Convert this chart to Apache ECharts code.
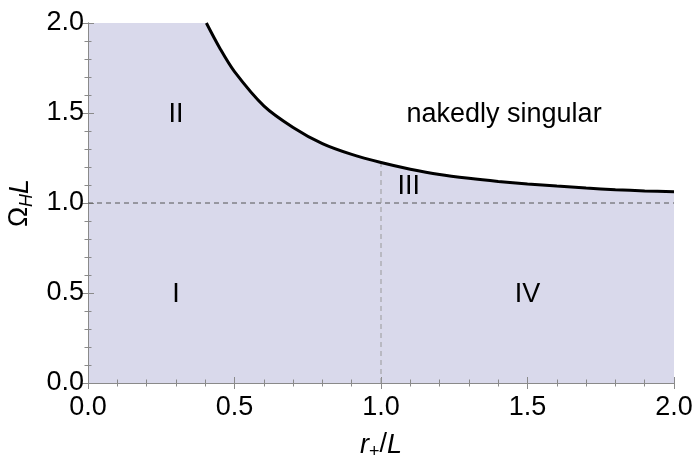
<!DOCTYPE html>
<html><head><meta charset="utf-8">
<script src="https://cdn.jsdelivr.net/npm/echarts@6/dist/echarts.min.js"></script>
<style>html,body{margin:0;padding:0;background:#fff}#c{width:694px;height:459px}</style>
</head><body><div id="c"></div>
<script>
// Boundary curve: r+/L vs Omega_H L
const rVals =     [0.404, 0.45, 0.50, 0.60, 0.70, 0.80, 0.90, 1.00, 1.10, 1.20, 1.30, 1.40, 1.50, 1.60, 1.70, 1.80, 1.90, 2.00];
const omegaVals = [2.00,  1.86, 1.73, 1.54, 1.42, 1.33, 1.27, 1.225, 1.188, 1.158, 1.137, 1.12, 1.106, 1.094, 1.083, 1.074, 1.067, 1.062];
// dashed guides
const hGuideX = [0, 2];
const hGuideY = [1, 1];
const vGuideX = [1, 1];
const vGuideY = [0, 1.225];
// region labels
const labelText = ['II', 'nakedly singular', 'III', 'I', 'IV'];
const labelX =    [0.30, 1.42, 1.095, 0.30, 1.50];
const labelY =    [1.49, 1.49, 1.09, 0.49, 0.49];
const tickLabels = ['0.0','0.5','1.0','1.5','2.0'];

const FILL = '#d9d9eb';
const FONT = 'Liberation Sans, Arial, sans-serif';
const FS = 27;
const TXT = '#000';
const zip = (a, b) => a.map((v, i) => [v, b[i]]);

const chart = echarts.init(document.getElementById('c'));
const tickCommon = {
  axisLine: {show: true, lineStyle: {color: '#8a8a8a', width: 1}},
  axisTick: {show: true, inside: true, length: 6, lineStyle: {color: '#8a8a8a'}},
  minorTick: {show: true, splitNumber: 5, length: 3.5, lineStyle: {color: '#8a8a8a'}},
  splitLine: {show: false}
};
const rich = {
  i: {fontSize: FS, fontStyle: 'italic', fontFamily: FONT, color: TXT},
  n: {fontSize: FS, fontFamily: FONT, color: TXT},
  s: {fontSize: 18, fontFamily: FONT, color: TXT, padding: [14, 0, 0, 0]},
  si: {fontSize: 18, fontStyle: 'italic', fontFamily: FONT, color: TXT, padding: [14, 0, 0, 0]}
};
chart.setOption({
  animation: false,
  grid: {left: 88, right: 20, top: 23, bottom: 76, containLabel: false, outerBoundsMode: 'none',
    show: true, backgroundColor: FILL, borderWidth: 0},
  xAxis: [
    Object.assign({type: 'value', min: 0, max: 2, interval: 0.5, position: 'bottom',
      axisLabel: {color: TXT, fontSize: FS, fontFamily: FONT, margin: 11,
        formatter: v => tickLabels[Math.round(v / 0.5)]},
      name: '{i|r}{s|+}{n|/}{i|L}', nameLocation: 'middle', nameGap: 46, nameMoveOverlap: false,
      nameTextStyle: {rich: rich}}, tickCommon),
    Object.assign({type: 'value', min: 0, max: 2, interval: 0.5, position: 'top',
      axisLabel: {show: false}}, tickCommon)
  ],
  yAxis: [
    Object.assign({type: 'value', min: 0, max: 2, interval: 0.5, position: 'left',
      axisLabel: {color: TXT, fontSize: FS, fontFamily: FONT, margin: 4,
        formatter: v => tickLabels[Math.round(v / 0.5)]},
      name: '{n|Ω}{si|H}{i|L}', nameLocation: 'middle', nameGap: 52, nameMoveOverlap: false,
      nameTextStyle: {rich: rich}}, tickCommon),
    Object.assign({type: 'value', min: 0, max: 2, interval: 0.5, position: 'right',
      axisLabel: {show: false}}, tickCommon)
  ],
  series: [
    {type: 'line', data: zip(rVals, omegaVals), symbol: 'none', smooth: 0.3,
      lineStyle: {color: '#000', width: 3}, areaStyle: {color: '#fff', opacity: 1, origin: 'end'}, z: 3},
    {type: 'line', data: zip(hGuideX, hGuideY), symbol: 'none',
      lineStyle: {color: '#555', width: 1, type: [5, 4]}, z: 2},
    {type: 'line', data: zip(vGuideX, vGuideY), symbol: 'none',
      lineStyle: {color: '#999', width: 1, type: [5, 4]}, z: 2},
    {type: 'scatter', symbolSize: 0, itemStyle: {opacity: 1},
      data: labelText.map((t, i) => ({value: [labelX[i], labelY[i]], name: t})),
      label: {show: true, position: 'inside', formatter: p => p.name, color: TXT, opacity: 1,
        fontSize: FS, fontFamily: FONT}, z: 4}
  ]
});
</script></body></html>
